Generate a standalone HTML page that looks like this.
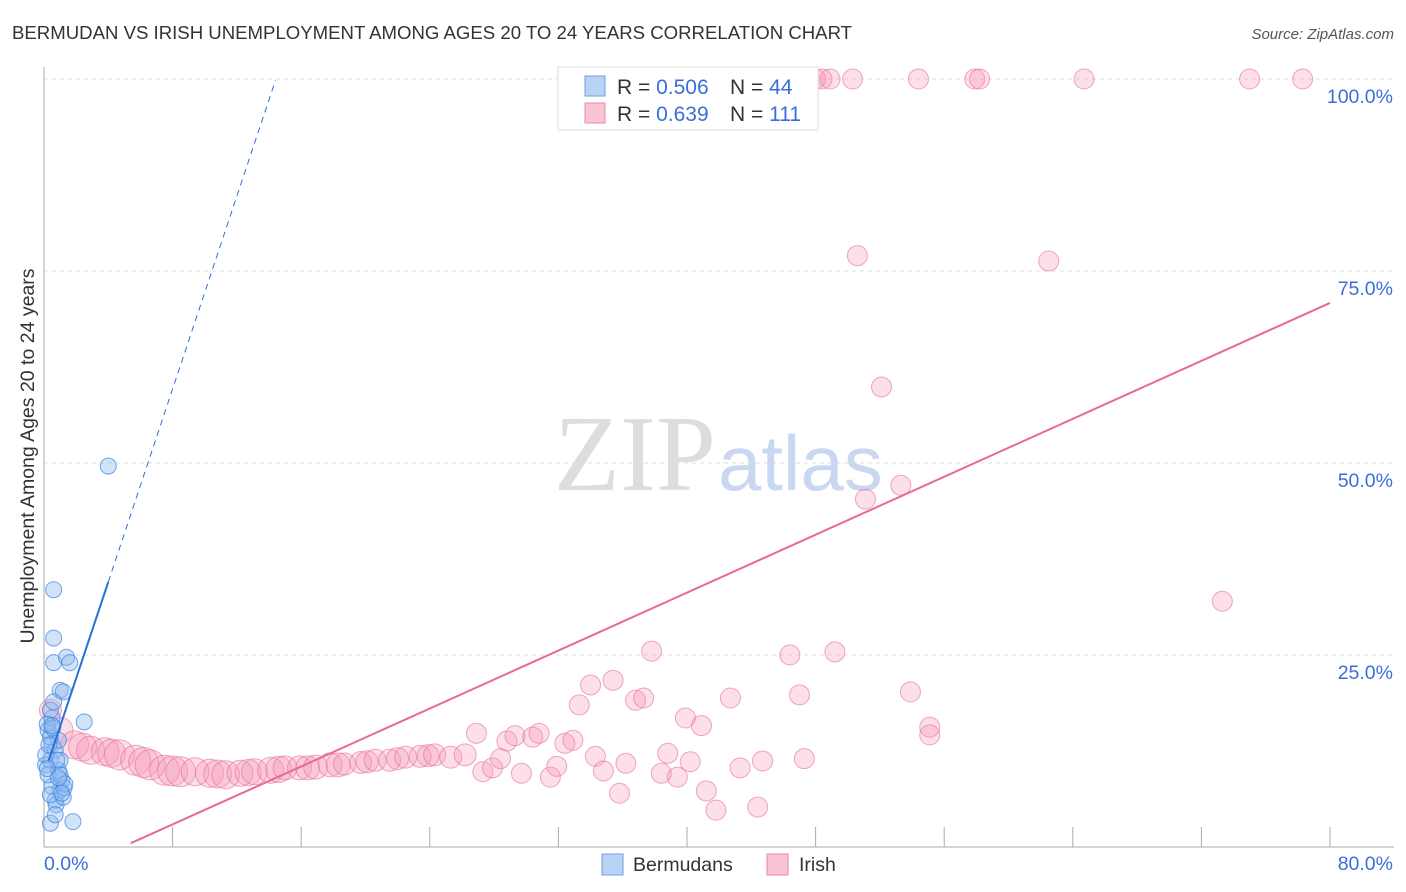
<!DOCTYPE html>
<html><head><meta charset="utf-8"><style>
body{margin:0;background:#fff;font-family:"Liberation Sans",sans-serif}
svg{display:block}
</style></head><body>
<svg id="c" width="1406" height="892">
<text x="12" y="39" font-size="18.6" fill="#333">BERMUDAN VS IRISH UNEMPLOYMENT AMONG AGES 20 TO 24 YEARS CORRELATION CHART</text>
<text x="1394" y="39" font-size="15" fill="#555" font-style="italic" text-anchor="end">Source: ZipAtlas.com</text>
<text x="716" y="490" font-size="108" fill="#ddd" text-anchor="end" font-family="Liberation Serif,serif">ZIP</text>
<text x="718" y="490" font-size="78" fill="#c9d8f0">atlas</text>
<g id="grid"></g><g id="axes"></g><g id="pts"></g><g id="lines"></g>
<text transform="translate(34,456) rotate(-90)" font-size="19.5" fill="#333" text-anchor="middle">Unemployment Among Ages 20 to 24 years</text>
<text x="44" y="870" font-size="19.5" fill="#3a6fd8">0.0%</text>
<text x="1393" y="870" font-size="19.5" fill="#3a6fd8" text-anchor="end">80.0%</text>
<g>
<rect x="558" y="67" width="260" height="63" fill="#fff" stroke="#ddd"/>
<rect x="585" y="76" width="20" height="20" fill="#b8d3f5" stroke="#6f9fe0"/>
<rect x="585" y="103" width="20" height="20" fill="#f9c4d4" stroke="#e888a8"/>
<text x="617" y="94" font-size="21" fill="#333">R = <tspan fill="#3a6fd8">0.506</tspan><tspan x="730">N = </tspan><tspan fill="#3a6fd8">44</tspan></text>
<text x="617" y="121" font-size="21" fill="#333">R = <tspan fill="#3a6fd8"> 0.639</tspan><tspan x="730">N = </tspan><tspan fill="#3a6fd8">111</tspan></text>
</g>
<g>
<rect x="602" y="854" width="21" height="21" fill="#b8d3f5" stroke="#6f9fe0"/>
<text x="633" y="871" font-size="19.5" fill="#333">Bermudans</text>
<rect x="767" y="854" width="21" height="21" fill="#f9c4d4" stroke="#e888a8"/>
<text x="799" y="871" font-size="19.5" fill="#333">Irish</text>
</g>
</svg>
<script>
const yTicks=[25,50,75,100];
const yTickLabels=["25.0%","50.0%","75.0%","100.0%"];
const xTicks=[8,16,24,32,40,48,56,64,72,80];
const blueX=[0.6,0.6,0.6,1.4,1.6,1.0,1.2,2.5,4.0,0.4,1.8,0.7,1.0,1.1,0.9,0.4,0.5,0.25,0.5,0.4,0.7,1.0,0.1,0.75,1.2,0.5,0.25,0.9,0.4,0.2,0.6,1.0,0.7,1.25,0.4,0.1,0.55,0.8,0.3,1.3,0.2,0.9,0.5,1.1];
const blueY=[33.5,27.2,24,24.7,24,20.4,20.2,16.3,49.6,3.1,3.3,6.1,7.4,8.7,10,11.3,13.3,15.2,16.8,17.8,12.6,11.3,10.7,5.5,6.5,7.9,9.4,13.9,14.3,16,18.9,9.4,4.2,7.7,6.8,12,15.5,11.3,13.3,8.2,10.2,9,15.8,7];
const pinkX=[0.4,1.0,1.9,2.4,2.9,3.8,4.2,4.7,5.7,6.2,6.6,7.5,8,8.5,9.4,10.3,10.8,11.3,12.2,12.7,13.1,14.1,14.6,15.0,15.9,16.4,16.9,17.8,18.3,18.7,19.7,20.1,20.6,21.5,22,22.5,23.4,23.9,24.3,25.3,26.2,
26.9,27.3,27.9,28.4,28.8,29.3,29.7,30.4,30.8,31.5,31.9,32.4,32.9,33.3,34.0,34.3,34.8,35.4,35.8,36.2,36.8,37.3,37.8,38.4,38.8,39.4,39.9,40.2,40.9,41.2,41.8,42.7,43.3,44.4,44.7,46.4,47.0,47.3,49.2,53.9,55.1,55.1,50.6,62.5,52.1,51.1,53.3,73.3,48.0,48.4,48.9,50.3,54.4,57.9,58.2,64.7,75.0,78.3];
const pinkY=[17.8,15.2,13.3,13,12.6,12.4,12.2,12.0,11.3,11,10.7,10.0,9.9,9.8,9.8,9.6,9.5,9.4,9.6,9.7,9.8,10.0,10.1,10.3,10.3,10.3,10.4,10.7,10.7,10.8,11.0,11.1,11.3,11.3,11.5,11.7,11.8,11.9,12.0,11.7,12.0,
14.8,9.8,10.3,11.5,13.8,14.5,9.6,14.3,14.8,9.1,10.5,13.5,13.9,18.5,21.1,11.8,9.9,21.7,7.0,10.9,19.1,19.4,25.5,9.6,12.2,9.1,16.8,11.1,15.8,7.3,4.8,19.4,10.3,5.2,11.2,25.0,19.8,11.5,25.4,20.2,15.6,14.6,77.0,76.3,59.9,45.3,47.1,32.0,100,100,100,100,100,100,100,100,100,100];
const pinkSize=[11,13,14,14,14,14,14,15,15,15,15,15,15,15,14,14,14,14,13,13,13,13,13,12,12,12,12,12,12,11,11,11,11,11,11,11,11,11,11,11,11];
const X=v=>44+v*16.075, Y=v=>847-v*7.68;
const NS="http://www.w3.org/2000/svg";
function mk(p,t,a){const e=document.createElementNS(NS,t);for(const k in a)e.setAttribute(k,a[k]);document.getElementById(p).appendChild(e);return e;}
yTicks.forEach((t,i)=>{
 const l=mk('grid','line',{x1:44,x2:1394,y1:Y(t),y2:Y(t),stroke:'#ddd','stroke-dasharray':'4,4'});
 
 
 const tx=mk('grid','text',{x:1393,y:Y(t)+24,'font-size':19.5,fill:'#3a6fd8','text-anchor':'end'});
 tx.textContent=yTickLabels[i];
 
 
});
let a=mk('axes','line',{x1:44,x2:44,y1:67,y2:847,stroke:'#aaa'});


a=mk('axes','line',{x1:44,x2:1394,y1:847,y2:847,stroke:'#aaa'});


xTicks.forEach(t=>{
 const l=mk('axes','line',{x1:X(t),x2:X(t),y1:827,y2:847,stroke:'#aaa'});
 
 
});
pinkX.forEach((v,i)=>{
 const c=mk('pts','circle',{cx:X(v),cy:Y(pinkY[i]),r:pinkSize[i]||10,fill:'rgba(244,150,180,0.3)',stroke:'rgba(230,110,150,0.6)','stroke-width':1});
 
 
});
blueX.forEach((v,i)=>{
 const c=mk('pts','circle',{cx:X(v),cy:Y(blueY[i]),r:8,fill:'rgba(140,185,240,0.4)',stroke:'rgba(60,130,220,0.7)','stroke-width':1});
 
 
});
const bf=x=>9.4+6.28*x, pf=x=>0.943*x-4.6;
let t=mk('lines','line',{x1:X(0.3),y1:Y(bf(0.3)),x2:X(4.0),y2:Y(bf(4.0)),stroke:'#2a6fd6','stroke-width':2});


t=mk('lines','line',{x1:X(4.0),y1:Y(bf(4.0)),x2:X(14.4),y2:Y(bf(14.4)),stroke:'#2a6fd6','stroke-width':1,'stroke-dasharray':'6,5'});


t=mk('lines','line',{x1:X(5.4),y1:Y(pf(5.4)),x2:X(80),y2:Y(pf(80)),stroke:'#e8689a','stroke-width':2});


</script>
</body></html>
